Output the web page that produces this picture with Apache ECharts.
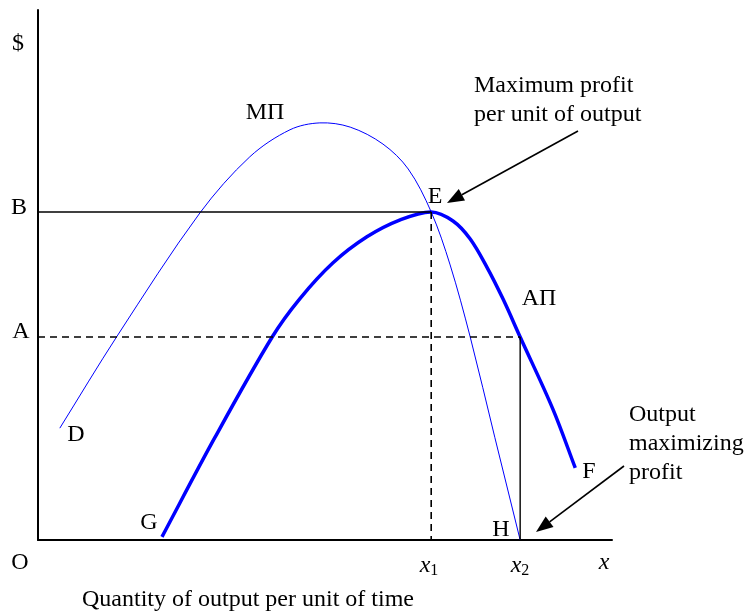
<!DOCTYPE html>
<html>
<head>
<meta charset="utf-8">
<script src="https://cdn.jsdelivr.net/npm/echarts@6/dist/echarts.min.js"></script>
<style>
  html, body { margin: 0; padding: 0; background: #fff; }
  #chart { width: 751px; height: 614px; }
</style>
</head>
<body>
<div id="chart"></div>
<script>
// 边际利润 MΠ 曲线 (D -> H)
const mpiX = [3.8, 13.8, 28.2, 36.9, 43.9, 49.1, 54.4, 60.1, 64.5, 68.5, 71.8, 75.3, 79.6, 84.0];
const mpiY = [21.1, 38.5, 61.7, 72.3, 77.4, 78.7, 77.9, 74.7, 70.0, 61.9, 51.9, 38.3, 19.3, 0];
// 平均利润 AΠ 曲线 (G -> F)
const apiX = [21.6, 30.8, 40.8, 45.6, 51.4, 57.3, 63.1, 68.5, 72.3, 75.3, 78.2, 81.0, 84.0, 89.7, 93.6];
const apiY = [0.6, 19.3, 38.3, 45.5, 52.3, 57.2, 60.4, 61.9, 60.2, 56.8, 51.5, 45.5, 38.3, 24.7, 13.6];
// 参考水平 / 产量
const levelB = 61.9;
const levelA = 38.3;
const outX1 = 68.5;
const outX2 = 84.0;

const chartInstance = echarts.init(document.getElementById("chart"));
const serif = "Liberation Serif, Times New Roman, serif";
const font = "24px " + serif;

// 用坐标轴换算后的点画一条平滑曲线 (Catmull-Rom -> Bezier)
const curveSeries = (name, xs, ys, width) => ({
  name: name,
  type: "custom",
  data: [0],
  clip: false,
  renderItem: (params, api) => {
    const p = xs.map((x, i) => api.coord([x, ys[i]]));
    const d = (a, b) => Math.hypot(b[0] - a[0], b[1] - a[1]);
    let path = "M" + p[0][0] + " " + p[0][1];
    for (let i = 0; i < p.length - 1; i++) {
      const p0 = p[i - 1] || p[i];
      const p1 = p[i];
      const p2 = p[i + 1];
      const p3 = p[i + 2] || p[i + 1];
      const d01 = d(p0, p1), d12 = d(p1, p2), d23 = d(p2, p3);
      const k1 = d12 / (d01 + d12) / 1.5;
      const k2 = d12 / (d12 + d23) / 1.5;
      const c1 = [p1[0] + (p2[0] - p0[0]) * k1 / 2, p1[1] + (p2[1] - p0[1]) * k1 / 2];
      const c2 = [p2[0] - (p3[0] - p1[0]) * k2 / 2, p2[1] - (p3[1] - p1[1]) * k2 / 2];
      path += " C" + c1.join(" ") + " " + c2.join(" ") + " " + p2.join(" ");
    }
    return {
      type: "path",
      shape: { pathData: path },
      style: { stroke: "#0000ff", lineWidth: width, fill: null, lineJoin: "round" },
    };
  },
});

// 画箭头
const arrow = (x1, y1, x2, y2) => {
  const a = Math.atan2(y2 - y1, x2 - x1);
  const L = 17, W = 6.5;
  const bx = x2 - L * Math.cos(a);
  const by = y2 - L * Math.sin(a);
  return [
    {
      type: "line",
      shape: { x1: x1, y1: y1, x2: bx, y2: by },
      style: { stroke: "#000", lineWidth: 1.6 },
    },
    {
      type: "polygon",
      shape: {
        points: [
          [x2, y2],
          [bx + W * Math.sin(a), by - W * Math.cos(a)],
          [bx - W * Math.sin(a), by + W * Math.cos(a)],
        ],
      },
      style: { fill: "#000" },
    },
  ];
};

const label = (text, x, y, align) => ({
  type: "text",
  x: x,
  y: y,
  style: {
    text: text,
    font: font,
    fill: "#000",
    align: align || "center",
    verticalAlign: "middle",
  },
});

const sub = (n, x, y) => ({
  type: "text",
  x: x,
  y: y,
  style: {
    text: "{i|x}{s|" + n + "}",
    align: "center",
    verticalAlign: "middle",
    rich: {
      i: { font: "italic 24px " + serif, fill: "#000" },
      s: { font: "16px " + serif, fill: "#000", padding: [10, 0, 0, 0] },
    },
  },
});

const option = {
  animation: false,
  backgroundColor: "#fff",
  grid: { left: 38, right: 139, top: 10, bottom: 74 },
  xAxis: {
    type: "value",
    min: 0,
    max: 100,
    axisLine: { lineStyle: { color: "#000", width: 2 } },
    axisTick: { show: false },
    axisLabel: { show: false },
    splitLine: { show: false },
  },
  yAxis: {
    type: "value",
    min: 0,
    max: 100,
    axisLine: { show: true, lineStyle: { color: "#000", width: 2 } },
    axisTick: { show: false },
    axisLabel: { show: false },
    splitLine: { show: false },
  },
  series: [
    {
      type: "line",
      data: [[0, levelB], [outX1, levelB]],
      showSymbol: false,
      lineStyle: { color: "#000", width: 1.6 },
    },
    {
      type: "line",
      data: [[0, levelA], [outX2, levelA]],
      showSymbol: false,
      lineStyle: { color: "#000", width: 1.6, type: [7, 5] },
    },
    {
      type: "line",
      data: [[outX1, levelB], [outX1, 0]],
      showSymbol: false,
      lineStyle: { color: "#000", width: 1.6, type: [7, 5] },
    },
    {
      type: "line",
      data: [[outX2, levelA], [outX2, 0]],
      showSymbol: false,
      lineStyle: { color: "#000", width: 1.4 },
    },
    curveSeries("MΠ", mpiX, mpiY, 1),
    curveSeries("AΠ", apiX, apiY, 3.5),
  ],
  graphic: [
    label("$", 18, 44),
    label("B", 19, 208),
    label("A", 21, 332),
    label("O", 20, 563),
    label("MΠ", 265, 113),
    label("E", 435, 197),
    label("AΠ", 539, 299),
    label("D", 76, 435),
    label("G", 149, 523),
    label("H", 501, 530),
    label("F", 589, 472),
    sub(1, 429, 566),
    sub(2, 520, 566),
    {
      type: "text",
      x: 604,
      y: 563,
      style: { text: "x", font: "italic 24px " + serif, fill: "#000", align: "center", verticalAlign: "middle" },
    },
    label("Maximum profit", 474, 86, "left"),
    label("per unit of output", 474, 115, "left"),
    label("Output", 629, 415, "left"),
    label("maximizing", 629, 444, "left"),
    label("profit", 629, 473, "left"),
    label("Quantity of output per unit of time", 248, 600),
    ...arrow(578, 131, 447, 203),
    ...arrow(624, 466, 536, 532),
  ],
};
chartInstance.setOption(option);
</script>
</body>
</html>
